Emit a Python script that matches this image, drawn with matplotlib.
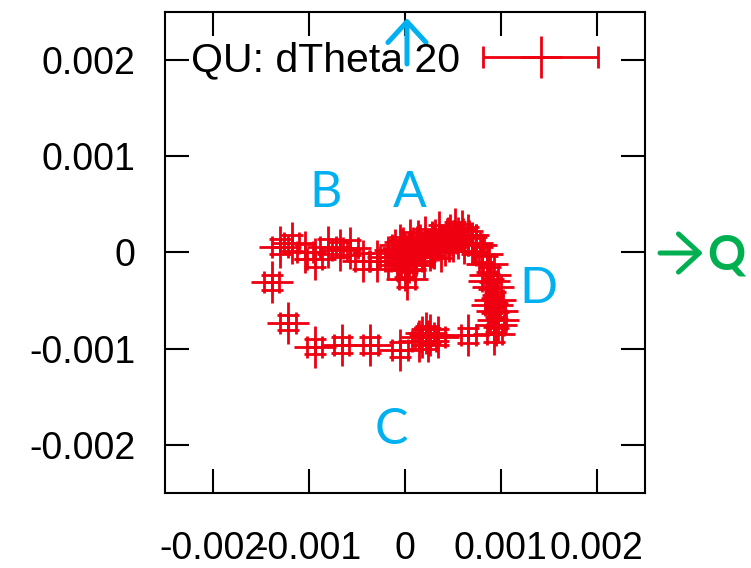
import numpy as np
import matplotlib
matplotlib.use('Agg')
import matplotlib.pyplot as plt
from matplotlib.legend_handler import HandlerErrorbar

plt.rcParams['font.family'] = ['Liberation Sans', 'DejaVu Sans']
plt.rcParams['axes.unicode_minus'] = False

# Q/U positions for the dTheta 20 run, in units of 1e-3
q_vals = [-0.10, -0.05, 0.00, 0.05, 0.00, 0.02, 0.10, 0.16, 0.21, 0.26,
          0.31, 0.36, 0.42, 0.47, 0.52, 0.59, 0.66, -0.07, 0.07,
          0.12, 0.20, 0.28, 0.38, 0.50, 0.62, 0.04, -0.02,
          0.00, 0.08, -0.04, 0.14, 0.30, 0.45, 0.55, 0.70,
          0.74, 0.80, 0.85, 0.89, 0.92, 0.94, 0.96, 0.95, 0.93,
          0.88, 0.91, 0.97,
          0.66, 0.34, 0.24, 0.18, 0.22, 0.15, 0.26,
          -0.05, -0.36, -0.66, -0.94, -1.22,
          -1.39, -1.30, -1.18, -1.04, -0.94, -0.80, -0.68, -0.57, -0.44,
          -0.29, -0.18]
u_vals = [0.03, 0.08, -0.02, 0.13, -0.18, -0.28, -0.09, 0.08, 0.16, 0.03,
          0.13, 0.21, 0.08, 0.18, 0.24, 0.22, 0.18, -0.09, 0.01,
          -0.03, -0.05, 0.10, 0.02, 0.12, 0.10, -0.10, 0.05,
          -0.10, 0.05, -0.05, 0.12, 0.05, 0.15, 0.15, 0.10,
          0.08, -0.02, -0.12, -0.23, -0.36, -0.49, -0.61, -0.75, -0.85,
          -0.30, -0.55, -0.70,
          -0.86, -0.88, -0.92, -0.88, -0.84, -0.92, -0.86,
          -1.01, -0.96, -0.96, -0.98, -0.73,
          -0.31, 0.06, 0.10, 0.01, -0.07, 0.06, 0.03, 0.05, -0.09,
          -0.09, -0.05]
q_err = 0.08
u_err = 0.08
unit = 1e-3

ticks = [-0.002, -0.001, 0, 0.001, 0.002]
tick_labels = ['-0.002', '-0.001', '0', '0.001', '0.002']

red = '#ee0010'
blue = '#00b0f0'
green = '#00b050'

fig = plt.figure(figsize=(7.51, 5.68), dpi=100)
ax = fig.add_axes([0.2197, 0.132, 0.639, 0.847])

q = np.array(q_vals) * unit
u = np.array(u_vals) * unit
ax.errorbar(q, u, xerr=q_err * unit, yerr=u_err * unit, fmt='+', color=red,
            ms=30, mew=2.0, elinewidth=2.0, capsize=8, capthick=2.0,
            label='QU: dTheta 20')

ax.set_xlim(-0.0025, 0.0025)
ax.set_ylim(-0.0025, 0.0025)
ax.set_xticks(ticks)
ax.set_xticklabels(tick_labels)
ax.set_yticks(ticks)
ax.set_yticklabels(tick_labels)
ax.tick_params(direction='in', length=17, width=1.5, labelsize=27, pad=21,
               top=True, right=True)
ax.tick_params(axis='x', pad=27)
for s in ax.spines.values():
    s.set_linewidth(1.5)

leg = ax.legend(loc='center left', bbox_to_anchor=(0.055, 0.90), frameon=False,
                markerfirst=False, fontsize=29.5, handlelength=2.8,
                handletextpad=0.56, borderpad=0, borderaxespad=0,
                handler_map={type(ax.containers[0]): HandlerErrorbar(xerr_size=1.4, yerr_size=0.0)})

# region labels
lbl = dict(color=blue, fontsize=36, family=['Lato', 'DejaVu Sans'],
           ha='center', va='center')
ax.text(0.05e-3, 0.62e-3, 'A', **lbl)
ax.text(-0.83e-3, 0.62e-3, 'B', **lbl)
ax.text(-0.14e-3, -1.85e-3, 'C', **lbl)
ax.text(1.39e-3, -0.38e-3, 'D', **lbl)

# axis direction arrows
ax.annotate('', xy=(703, 315), xytext=(660, 315), xycoords='figure pixels',
            textcoords='figure pixels', annotation_clip=False,
            arrowprops=dict(arrowstyle='->,head_length=0.6,head_width=0.55',
                            mutation_scale=25, color=green, lw=3.6,
                            shrinkA=0, shrinkB=0))
fig.text(707, 313, 'Q', transform=None, color=green, fontsize=34,
         fontweight='bold', family=['Lato', 'DejaVu Sans'], va='center', ha='left')
ax.annotate('', xy=(407, 550), xytext=(407, 504), xycoords='figure pixels',
            textcoords='figure pixels', annotation_clip=False,
            arrowprops=dict(arrowstyle='->,head_length=0.6,head_width=0.55',
                            mutation_scale=25, color=blue, lw=3.6,
                            shrinkA=0, shrinkB=0))

fig.savefig('out.png', dpi=100)
